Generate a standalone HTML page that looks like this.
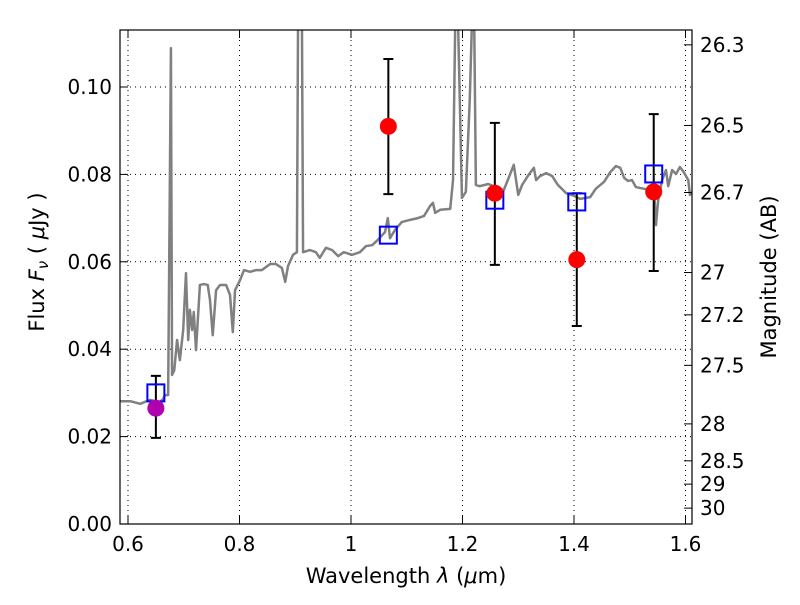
<!DOCTYPE html>
<html><head><meta charset="utf-8"><style>
body{margin:0;background:#fff;}
svg text{font-family:"DejaVu Sans","Liberation Sans",sans-serif;fill:#000;}
</style></head><body>
<svg id="chart" width="800" height="600" xmlns="http://www.w3.org/2000/svg">
<defs><clipPath id="clip"><rect x="120" y="30" width="572" height="494"/></clipPath></defs>
<rect width="800" height="600" fill="#fff"/>
<g id="grid"></g>
<g id="spec" clip-path="url(#clip)"></g>
<g id="marks"></g>
<rect x="120" y="30" width="572" height="494" fill="none" stroke="#000" stroke-width="1.2"/>
<g id="axes"></g>
<text x="406" y="583" font-size="21" text-anchor="middle">Wavelength  <tspan font-style="italic">λ</tspan> (<tspan font-style="italic">μ</tspan>m)</text>
<text transform="translate(44,262) rotate(-90)" font-size="21" text-anchor="middle">Flux  <tspan font-style="italic">F</tspan><tspan font-style="italic" font-size="15" dy="4">ν</tspan><tspan dy="-4">  ( </tspan><tspan font-style="italic">μ</tspan>Jy )</text>
<text transform="translate(776,277) rotate(-90)" font-size="21" text-anchor="middle">Magnitude (AB)</text>
</svg>
<script>
const specWave=[0.586,0.604,0.622,0.639,0.657,0.663,0.666,0.672,0.677,0.679,0.683,0.688,0.693,0.699,0.704,0.708,0.711,0.715,0.718,0.722,0.729,0.736,0.743,0.747,0.752,0.758,0.765,0.776,0.783,0.788,0.792,0.801,0.808,0.819,0.830,0.840,0.855,0.865,0.876,0.882,0.887,0.896,0.903,0.905,0.912,0.914,0.926,0.937,0.944,0.955,0.966,0.977,0.987,1.002,1.016,1.027,1.038,1.048,1.061,1.066,1.070,1.079,1.091,1.106,1.120,1.131,1.142,1.147,1.151,1.160,1.178,1.183,1.187,1.192,1.199,1.206,1.213,1.217,1.221,1.224,1.231,1.246,1.260,1.274,1.285,1.292,1.300,1.307,1.317,1.325,1.328,1.332,1.339,1.350,1.361,1.371,1.386,1.400,1.411,1.429,1.439,1.454,1.465,1.475,1.483,1.490,1.497,1.504,1.511,1.518,1.526,1.536,1.544,1.547,1.551,1.558,1.565,1.569,1.576,1.583,1.590,1.597,1.605,1.608,1.612];
const specFlux=[0.0281,0.0281,0.0275,0.0284,0.0279,0.0286,0.0295,0.0295,0.1089,0.0341,0.0352,0.0421,0.0375,0.0444,0.0574,0.0421,0.0490,0.0444,0.0485,0.0398,0.0547,0.0549,0.0547,0.0513,0.0432,0.0535,0.0547,0.0547,0.0524,0.0439,0.0535,0.0558,0.0581,0.0577,0.0581,0.0581,0.0595,0.0595,0.0586,0.0554,0.0590,0.0616,0.0622,0.115,0.115,0.0622,0.0627,0.0622,0.0609,0.0632,0.0627,0.0613,0.0622,0.0616,0.0622,0.0636,0.0638,0.0650,0.0668,0.0700,0.0654,0.0673,0.0691,0.0696,0.0700,0.0705,0.0728,0.0735,0.0712,0.0719,0.0721,0.0787,0.115,0.115,0.0746,0.0760,0.0970,0.115,0.115,0.0776,0.0773,0.0778,0.0771,0.0764,0.0799,0.0822,0.0753,0.0776,0.0796,0.0810,0.0815,0.0787,0.0796,0.0803,0.0796,0.0776,0.0757,0.0751,0.0744,0.0748,0.0767,0.0783,0.0805,0.0819,0.0815,0.0792,0.0785,0.0787,0.0771,0.0769,0.0767,0.0764,0.0757,0.0684,0.0741,0.0787,0.0810,0.0773,0.0810,0.0801,0.0817,0.0805,0.0787,0.0753,0.0760];
const obsWave=[1.067,1.258,1.405,1.543];
const obsFlux=[0.0910,0.0757,0.0605,0.0760];
const obsHi=[0.1064,0.0918,0.0757,0.0938];
const obsLo=[0.0755,0.0593,0.0453,0.0579];
const magWave=[0.650];
const magFlux=[0.0265];
const magHi=[0.0339];
const magLo=[0.0197];
const modelWave=[0.650,1.067,1.258,1.405,1.543];
const modelFlux=[0.0300,0.0661,0.0741,0.0737,0.0801];
const xTicks=[0.6,0.8,1.0,1.2,1.4,1.6];
const xTickLabels=["0.6","0.8","1","1.2","1.4","1.6"];
const yTicks=[0,0.02,0.04,0.06,0.08,0.10];
const yTickLabels=["0.00","0.02","0.04","0.06","0.08","0.10"];
const magTicks=[26.3,26.5,26.7,27,27.2,27.5,28,28.5,29,30];
const magTickLabels=["26.3","26.5","26.7","27","27.2","27.5","28","28.5","29","30"];

const X=v=>128+(v-0.6)*557.5;
const Y=v=>524-v*4370;
const NS="http://www.w3.org/2000/svg";
function mk(tag,attrs,parent){const e=document.createElementNS(NS,tag);for(const k in attrs)e.setAttribute(k,attrs[k]);parent.appendChild(e);return e;}
const grid=document.getElementById('grid'),axes=document.getElementById('axes'),spec=document.getElementById('spec'),marks=document.getElementById('marks');
xTicks.forEach((t,i)=>{const x=X(t);
 let g=mk('line',{x1:x,x2:x,y1:30,y2:524,stroke:'#000','stroke-width':1,'stroke-dasharray':'1,4'},grid);
 
 mk('line',{x1:x,x2:x,y1:524,y2:516,stroke:'#000'},axes);mk('line',{x1:x,x2:x,y1:30,y2:38,stroke:'#000'},axes);
 let tx=mk('text',{x:x,y:551,'font-size':20,'text-anchor':'middle'},axes);tx.textContent=xTickLabels[i];
 });
yTicks.forEach((t,i)=>{const y=Y(t);
 let g=mk('line',{x1:120,x2:692,y1:y,y2:y,stroke:'#000','stroke-width':1,'stroke-dasharray':'1,4'},grid);
 
 mk('line',{x1:120,x2:128,y1:y,y2:y,stroke:'#000'},axes);
 let tx=mk('text',{x:112,y:y+7,'font-size':20,'text-anchor':'end'},axes);tx.textContent=yTickLabels[i];
 });
magTicks.forEach((m,i)=>{const y=Y(Math.pow(10,(23.9-m)/2.5));
 mk('line',{x1:684,x2:692,y1:y,y2:y,stroke:'#000'},axes);
 let tx=mk('text',{x:700,y:y+7,'font-size':20},axes);tx.textContent=magTickLabels[i];
 });
const pl=mk('polyline',{points:specWave.map((w,i)=>X(w)+','+Y(specFlux[i])).join(' '),fill:'none',stroke:'#808080','stroke-width':2.5,'stroke-linejoin':'round'},spec);

function errbar(w,lo,hi){const x=X(w);
 const e=mk('path',{d:`M${x},${Y(lo)}V${Y(hi)}M${x-5},${Y(lo)}h10M${x-5},${Y(hi)}h10`,stroke:'#000','stroke-width':2,fill:'none'},marks);
 }
magWave.forEach((w,i)=>errbar(w,magLo[i],magHi[i]));
obsWave.forEach((w,i)=>errbar(w,obsLo[i],obsHi[i]));
modelWave.forEach((w,i)=>{const s=mk('rect',{x:X(w)-8.5,y:Y(modelFlux[i])-8.5,width:17,height:17,fill:'none',stroke:'#0000ff','stroke-width':2},marks);
 });
magWave.forEach((w,i)=>{const c=mk('circle',{cx:X(w),cy:Y(magFlux[i]),r:8.5,fill:'#b000b0'},marks);
 });
obsWave.forEach((w,i)=>{const c=mk('circle',{cx:X(w),cy:Y(obsFlux[i]),r:8.5,fill:'#ff0000'},marks);
 });
</script>
</body></html>
